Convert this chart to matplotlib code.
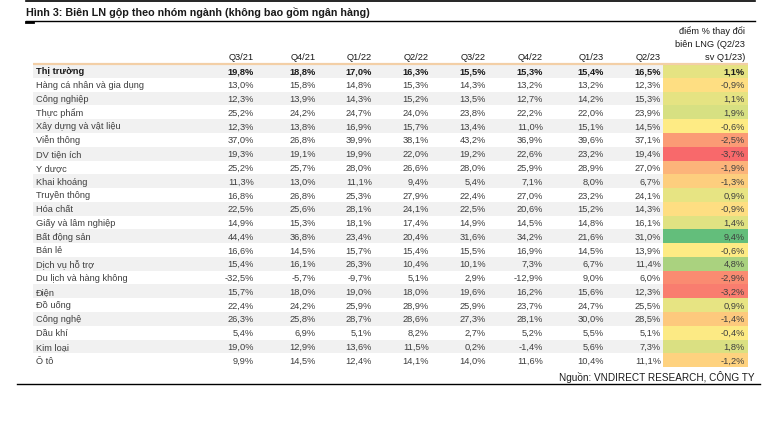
import matplotlib.pyplot as plt
from matplotlib.colors import LinearSegmentedColormap
import numpy as np

# DATA
# -----------
title = "Hình 3: Biên LN gộp theo nhóm ngành (không bao gồm ngân hàng)"
source = "Nguồn: VNDIRECT RESEARCH, CÔNG TY"
quarters = ["Q3/21", "Q4/21", "Q1/22", "Q2/22", "Q3/22", "Q4/22", "Q1/23", "Q2/23"]
change_header = ["điểm % thay đổi", "biên LNG (Q2/23", "sv Q1/23)"]

sectors = ["Thị trường", "Hàng cá nhân và gia dụng", "Công nghiệp", "Thực phẩm",
           "Xây dựng và vật liệu", "Viễn thông", "DV tiện ích", "Y dược", "Khai khoáng",
           "Truyền thông", "Hóa chất", "Giấy và lâm nghiệp", "Bất động sản", "Bán lẻ",
           "Dịch vụ hỗ trợ", "Du lịch và hàng không", "Điện", "Đồ uống", "Công nghệ",
           "Dầu khí", "Kim loại", "Ô tô"]

q3_21 = [19.8, 13.0, 12.3, 25.2, 12.3, 37.0, 19.3, 25.2, 11.3, 16.8, 22.5, 14.9, 44.4, 16.6, 15.4, -32.5, 15.7, 22.4, 26.3, 5.4, 19.0, 9.9]
q4_21 = [18.8, 15.8, 13.9, 24.2, 13.8, 26.8, 19.1, 25.7, 13.0, 26.8, 25.6, 15.3, 36.8, 14.5, 16.1, -5.7, 18.0, 24.2, 25.8, 6.9, 12.9, 14.5]
q1_22 = [17.0, 14.8, 14.3, 24.7, 16.9, 39.9, 19.9, 28.0, 11.1, 25.3, 28.1, 18.1, 23.4, 15.7, 26.3, -9.7, 19.0, 25.9, 28.7, 5.1, 13.6, 12.4]
q2_22 = [16.3, 15.3, 15.2, 24.0, 15.7, 38.1, 22.0, 26.6, 9.4, 27.9, 24.1, 17.4, 20.4, 15.4, 10.4, 5.1, 18.0, 28.9, 28.6, 8.2, 11.5, 14.1]
q3_22 = [15.5, 14.3, 13.5, 23.8, 13.4, 43.2, 19.2, 28.0, 5.4, 22.4, 22.5, 14.9, 31.6, 15.5, 10.1, 2.9, 19.6, 25.9, 27.3, 2.7, 0.2, 14.0]
q4_22 = [15.3, 13.2, 12.7, 22.2, 11.0, 36.9, 22.6, 25.9, 7.1, 27.0, 20.6, 14.5, 34.2, 16.9, 7.3, -12.9, 16.2, 23.7, 28.1, 5.2, -1.4, 11.6]
q1_23 = [15.4, 13.2, 14.2, 22.0, 15.1, 39.6, 23.2, 28.9, 8.0, 23.2, 15.2, 14.8, 21.6, 14.5, 6.7, 9.0, 15.6, 24.7, 30.0, 5.5, 5.6, 10.4]
q2_23 = [16.5, 12.3, 15.3, 23.9, 14.5, 37.1, 19.4, 27.0, 6.7, 24.1, 14.3, 16.1, 31.0, 13.9, 11.4, 6.0, 12.3, 25.5, 28.5, 5.1, 7.3, 11.1]
change = [1.1, -0.9, 1.1, 1.9, -0.6, -2.5, -3.7, -1.9, -1.3, 0.9, -0.9, 1.4, 9.4, -0.6, 4.8, -2.9, -3.2, 0.9, -1.4, -0.4, 1.8, -1.2]

series = [q3_21, q4_21, q1_22, q2_22, q3_22, q4_22, q1_23, q2_23]

# LAYOUT (pixels)
W, H = 779, 422
col_right = [254, 316, 372, 429, 486, 543, 604, 661]
chg_left, chg_right = 663, 748
chg_text_x = 745
label_x = 36
band_left = 33
row0 = 71
row_h = 13.77
fs = 6.7
base_off = 3.4   # centre -> baseline shift
body_color = '#3f3f3f'
dark = '#1a1a1a'

plt.rcParams['font.family'] = ['Liberation Sans', 'DejaVu Sans']

fig = plt.figure(figsize=(W / 100, H / 100), dpi=100, facecolor='white')
ax = fig.add_axes([0, 0, 1, 1])
ax.set_xlim(0, W)
ax.set_ylim(H, 0)
ax.axis('off')


def fmt(v):
    return f"{v:.1f}".replace('.', ',') + '%'


# Excel style 3-colour scale for the change column
scale = LinearSegmentedColormap.from_list(
    'rdylgn', [(0.0, '#F8696B'), (0.5, '#FFEB84'), (1.0, '#63BE7B')])
lo, mid, hi = min(change), np.percentile(change, 50), max(change)


def scale_color(v):
    if v <= mid:
        t = 0.5 * (v - lo) / (mid - lo)
    else:
        t = 0.5 + 0.5 * (v - mid) / (hi - mid)
    return scale(t)


# TITLE + RULES
ax.plot([26, 755], [0.8, 0.8], color='black', lw=1.2)
ax.text(26, 12 + 3.8, title, fontsize=7.75, fontweight='bold', color=dark, ha='left', va='baseline')
ax.plot([26, 755], [21, 21], color='black', lw=1.0)
ax.plot([26, 33], [22, 22], color='black', lw=2.0)

# HEADER
for x, q in zip(col_right, quarters):
    ax.text(x, 57 + base_off, q, fontsize=fs, color=dark, ha='right', va='baseline')
for k, line in enumerate(change_header):
    ax.text(chg_text_x, 31 + k * 13 + base_off, line, fontsize=fs, color=dark,
            ha='right', va='baseline')
ax.plot([band_left, chg_right], [64, 64], color='#f3cfa6', lw=1.6, solid_capstyle='butt')

# BODY
for i, name in enumerate(sectors):
    y = row0 + i * row_h
    if i % 2 == 0:
        ax.add_patch(plt.Rectangle((band_left, y - row_h / 2), chg_left - band_left, row_h,
                                   facecolor='#f1f1f1', edgecolor='none'))
    ax.add_patch(plt.Rectangle((chg_left, y - row_h / 2), chg_right - chg_left, row_h,
                               facecolor=scale_color(change[i]), edgecolor='none'))
    bold = 'bold' if i == 0 else 'normal'
    col = dark if i == 0 else body_color
    yb = y + base_off
    ax.text(label_x, yb, name, fontsize=fs, fontweight=bold, color=col, ha='left', va='baseline')
    for x, s in zip(col_right, series):
        ax.text(x, yb, fmt(s[i]), fontsize=fs, fontweight=bold, color=col,
                ha='right', va='baseline')
    ax.text(chg_text_x, yb, fmt(change[i]), fontsize=fs, fontweight=bold, color=col,
            ha='right', va='baseline')

# SOURCE
ax.text(755, 377 + 3.6, source, fontsize=7.2, color=dark, ha='right', va='baseline')
ax.plot([17, 760], [383.5, 383.5], color='black', lw=1.0)

fig.savefig('out.png', dpi=100, facecolor='white')
